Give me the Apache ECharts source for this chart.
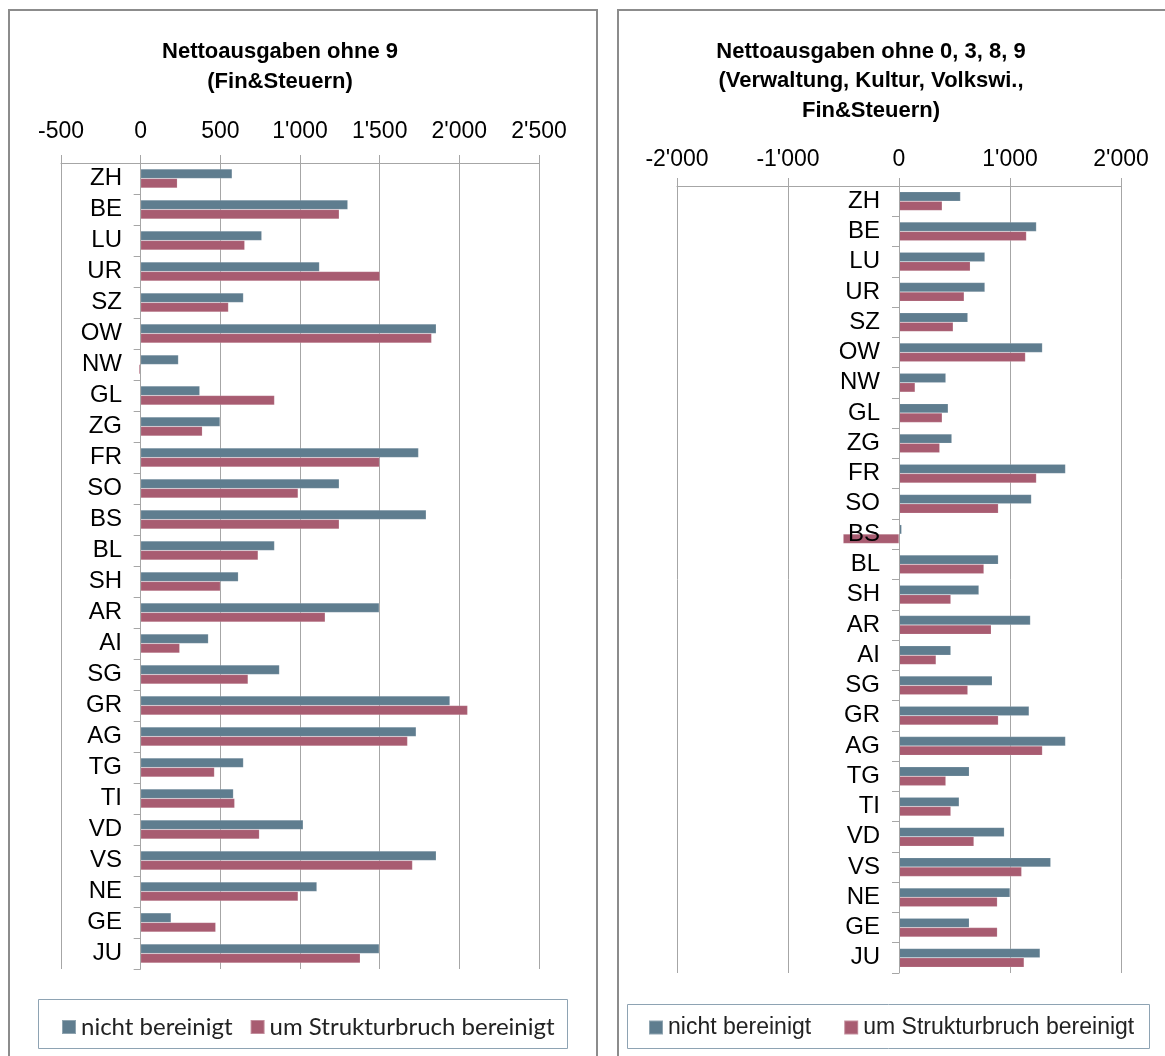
<!DOCTYPE html>
<html>
<head>
<meta charset="utf-8">
<title>Nettoausgaben</title>
<script src="https://cdn.jsdelivr.net/npm/echarts@6/dist/echarts.min.js"></script>
<style>
  html, body { margin: 0; padding: 0; background: #ffffff; }
  #chart { width: 1165px; height: 1056px; }
</style>
</head>
<body>
<div id="chart"></div>
<script>
// Cantons, top to bottom
const cantons = ['ZH','BE','LU','UR','SZ','OW','NW','GL','ZG','FR','SO','BS','BL','SH','AR','AI','SG','GR','AG','TG','TI','VD','VS','NE','GE','JU'];

// Net expenditure without function 9 (Fin&Steuern)
const ohne9Raw = [574, 1300, 760, 1122, 645, 1855, 237, 371, 498, 1744, 1246, 1792, 840, 613, 1497, 425, 871, 1941, 1729, 645, 582, 1020, 1855, 1106, 191, 1497];
const ohne9Adj = [230, 1246, 653, 1501, 551, 1826, -10, 840, 387, 1499, 988, 1246, 737, 500, 1158, 245, 674, 2052, 1675, 463, 590, 745, 1706, 988, 471, 1378];

// Net expenditure without functions 0, 3, 8, 9
const ohne0389Raw = [554, 1238, 774, 774, 620, 1292, 422, 443, 476, 1500, 1193, 24, 895, 720, 1184, 467, 840, 1172, 1500, 633, 542, 949, 1367, 1000, 633, 1271];
const ohne0389Adj = [389, 1148, 642, 587, 488, 1139, 145, 389, 367, 1238, 895, -503, 765, 467, 831, 334, 620, 895, 1292, 422, 467, 675, 1105, 886, 886, 1127];

const seriesNames = ['nicht bereinigt', 'um Strukturbruch bereinigt'];
const leftTicks = { min: -500, max: 2500, interval: 500 };
const rightTicks = { min: -2000, max: 2000, interval: 1000 };

const BLUE = '#5f7d8f';
const RED = '#a85c71';
const GRID_GRAY = '#a6a6a6';
const FONT = '"Liberation Sans", Arial, sans-serif';

function swissFormat(v) {
  const s = Math.abs(v).toString().replace(/\B(?=(\d{3})+(?!\d))/g, "'");
  return (v < 0 ? '-' : '') + s;
}

function valueAxis(gridIndex, ticks, margin) {
  return {
    type: 'value', gridIndex: gridIndex, position: 'top',
    min: ticks.min, max: ticks.max, interval: ticks.interval,
    axisLine: { show: true, onZero: false, lineStyle: { color: GRID_GRAY, width: 1 } },
    axisTick: { show: true, length: 8, lineStyle: { color: GRID_GRAY } },
    splitLine: { show: true, lineStyle: { color: GRID_GRAY, width: 1 } },
    axisLabel: { color: '#000', fontFamily: FONT, fontSize: 23, margin: margin, formatter: swissFormat }
  };
}

// labels sit just left of the zero line, so the margin is measured back from the grid edge
function categoryAxis(gridIndex, margin) {
  return {
    type: 'category', gridIndex: gridIndex, data: cantons, inverse: true, z: 5,
    axisLine: { show: true, onZero: true, lineStyle: { color: GRID_GRAY, width: 1 } },
    axisTick: { show: true, length: 7, lineStyle: { color: GRID_GRAY } },
    axisLabel: { color: '#000', fontFamily: FONT, fontSize: 24, margin: margin, interval: 0 }
  };
}

function barSeries(name, data, axisIndex, color) {
  return {
    name: name, type: 'bar', data: data,
    xAxisIndex: axisIndex, yAxisIndex: axisIndex,
    barGap: '0%', barCategoryGap: '38%',
    itemStyle: { color: color, borderColor: 'rgba(255,255,255,0.3)', borderWidth: 0.5 },
    emphasis: { disabled: true },
    animation: false
  };
}

const chart = echarts.init(document.getElementById('chart'), null, { renderer: 'canvas' });

chart.setOption({
  backgroundColor: '#ffffff',
  animation: false,
  color: [BLUE, RED],
  title: [
    {
      text: 'Nettoausgaben ohne 9\n(Fin&Steuern)',
      left: 275, top: 32, textAlign: 'center',
      textStyle: { fontFamily: FONT, fontSize: 22, fontWeight: 'bold', color: '#000', lineHeight: 30 }
    },
    {
      text: 'Nettoausgaben ohne 0, 3, 8, 9\n(Verwaltung, Kultur, Volkswi.,\nFin&Steuern)',
      left: 866, top: 32, textAlign: 'center',
      textStyle: { fontFamily: FONT, fontSize: 22, fontWeight: 'bold', color: '#000', lineHeight: 29.5 }
    }
  ],
  legend: [
    {
      data: seriesNames, left: 56, top: 1010, itemWidth: 14, itemHeight: 14, itemGap: 17,
      icon: 'rect', selectedMode: false,
      textStyle: { fontFamily: 'Lato, "Open Sans", sans-serif', fontSize: 24, color: '#222' }
    },
    {
      data: seriesNames, left: 643, top: 1011, itemWidth: 14, itemHeight: 14, itemGap: 32,
      icon: 'rect', selectedMode: false,
      textStyle: { fontFamily: FONT, fontSize: 23, color: '#222' }
    }
  ],
  grid: [
    { left: 61, top: 163, width: 478, height: 806, containLabel: false },
    { left: 677, top: 186, width: 444, height: 787, containLabel: false }
  ],
  xAxis: [valueAxis(0, leftTicks, 20), valueAxis(1, rightTicks, 15)],
  yAxis: [categoryAxis(0, -61), categoryAxis(1, -203)],
  series: [
    barSeries(seriesNames[0], ohne9Raw, 0, BLUE),
    barSeries(seriesNames[1], ohne9Adj, 0, RED),
    barSeries(seriesNames[0], ohne0389Raw, 1, BLUE),
    barSeries(seriesNames[1], ohne0389Adj, 1, RED)
  ],
  graphic: [
    // panel frames
    { type: 'rect', shape: { x: 9, y: 10, width: 588, height: 1070 }, style: { fill: 'none', stroke: '#8c8c8c', lineWidth: 2 }, silent: true, z: -1 },
    { type: 'rect', shape: { x: 618, y: 10, width: 570, height: 1070 }, style: { fill: 'none', stroke: '#8c8c8c', lineWidth: 2 }, silent: true, z: -1 },
    // legend boxes
    { type: 'rect', shape: { x: 38.5, y: 999.5, width: 529, height: 49 }, style: { fill: 'none', stroke: '#8ea3b3', lineWidth: 1 }, silent: true, z: -1 },
    { type: 'rect', shape: { x: 627.5, y: 1004.5, width: 522, height: 44 }, style: { fill: 'none', stroke: '#8ea3b3', lineWidth: 1 }, silent: true, z: -1 }
  ]
});
</script>
</body>
</html>
